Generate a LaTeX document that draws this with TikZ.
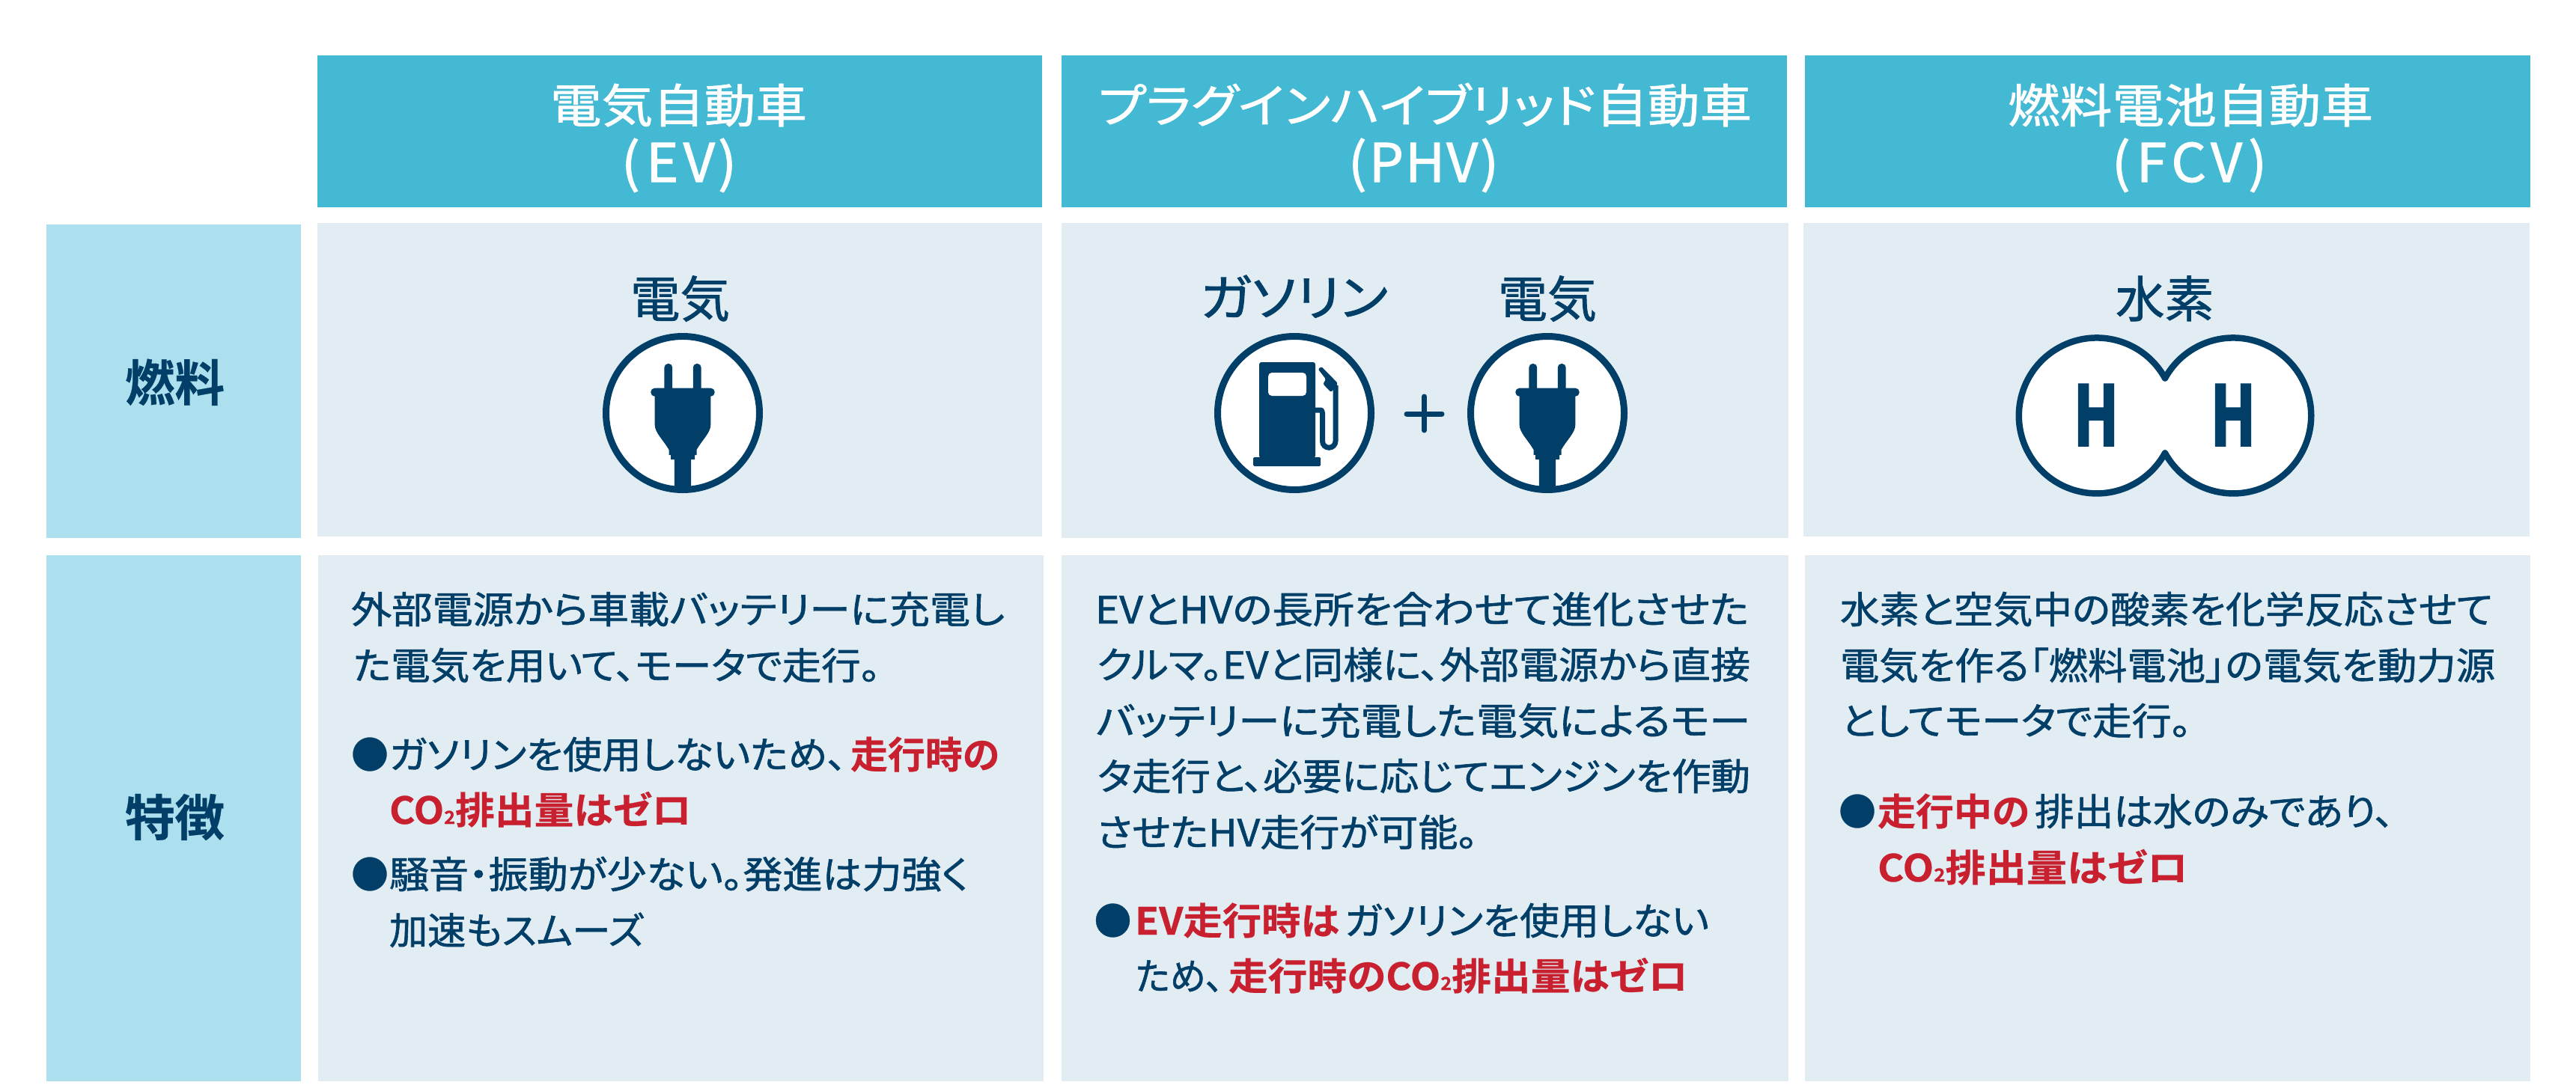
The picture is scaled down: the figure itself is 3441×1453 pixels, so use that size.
\documentclass[tikz,border=0pt]{standalone}
\usepackage{fontspec}
\usepackage{graphicx}
\newfontfamily\jpm[RawFeature={+palt},FakeBold=1.2]{Noto Sans CJK JP}
\newfontfamily\jpfull[FakeBold=0.6]{Noto Sans CJK JP}
\newfontfamily\jplat[FakeBold=1.6]{Noto Sans CJK JP}
\newfontfamily\jpb[RawFeature={+palt},FakeBold=0.4]{Noto Sans CJK JP Bold}
\newfontfamily\jph[FakeBold=3.5]{Noto Sans CJK JP Bold}
\definecolor{navy}{HTML}{023F68}
\definecolor{redx}{HTML}{C9202F}
\definecolor{headc}{HTML}{44B9D3}
\definecolor{leftc}{HTML}{ADE0EE}
\definecolor{cellc}{HTML}{E1ECF3}
\newcommand{\bodyn}{\color{navy}\jpm\fontsize{50}{60}\selectfont}
\newcommand{\bodyr}{\color{redx}\jpb\fontsize{50}{60}\selectfont}
\newcommand{\bul}{\color{navy}\jpfull\fontsize{50}{60}\selectfont}
\newcommand{\headf}{\color{white}\jpm\fontsize{62}{70}\selectfont}
\newcommand{\headl}{\color{white}\jplat\fontsize{71}{80}\selectfont}
\newcommand{\fuelf}{\color{navy}\jpm\fontsize{66}{74}\selectfont}
\newcommand{\sidef}{\color{navy}\jpb\fontsize{66}{74}\selectfont}
\newcommand{\hf}{\color{navy}\jph\fontsize{109}{120}\selectfont}
\newcommand{\linerun}[6]{\node[runtext] (#1) at (#2,#3) {\resizebox{#4pt}{\height}{#5#6}};}
\newcommand{\cotwo}{CO{\fontsize{24}{24}\selectfont 2}}
\tikzset{
  runtext/.style={anchor=base west,inner sep=0pt,outer sep=0pt},
  ring/.style={draw=navy,fill=white,line width=9pt},
  ink/.style={fill=navy,draw=none},
  plugicon/.pic={
    \fill[ink,rounded corners=5pt] (-24.6,-66) rectangle (-13.8,-25);
    \fill[ink,rounded corners=5pt] (13.8,-66) rectangle (24.6,-25);
    \fill[ink,rounded corners=5pt] (-42.6,-33.3) rectangle (42.6,-22.3);
    \fill[ink] (-37.3,-24) -- (37.3,-24) -- (37.3,16)
       .. controls (37.3,26) and (26,36) .. (18.5,49) -- (18.5,56) -- (16,56) -- (16,62)
       -- (11.2,62) -- (11.2,100) -- (-11.2,100) -- (-11.2,62) -- (-16,62) -- (-16,56) -- (-18.5,56) -- (-18.5,49)
       .. controls (-26,36) and (-37.3,26) .. (-37.3,16) -- cycle;
  }
}
\begin{document}
\begin{tikzpicture}[x=1pt,y=-1pt]
\useasboundingbox (0,0) rectangle (3441,1453);
% headers
\fill[headc] (423.5,74) rectangle (1392,277);
\fill[headc] (1418,74) rectangle (2387,277);
\fill[headc] (2411,74) rectangle (3380,277);
% side cells
\fill[leftc] (62,300) rectangle (402,719);
\fill[leftc] (62,742) rectangle (402,1445);
% body cells
\fill[cellc] (423.5,298) rectangle (1392,717);
\fill[cellc] (1418,298) rectangle (2389,719);
\fill[cellc] (2409,298) rectangle (3379,717);
\fill[cellc] (425,742) rectangle (1394,1445);
\fill[cellc] (1418,742) rectangle (2389,1445);
\fill[cellc] (2411,742) rectangle (3380,1445);
% header text
\linerun{h1a}{735}{164}{343}{\headf}{電気自動車}
\linerun{h1b}{830}{243}{154}{\headl}{(\kern8ptE\kern6ptV\kern4pt)}
\linerun{h2a}{1467}{164}{873}{\headf}{プラグインハイブリッド自動車}
\linerun{h2b}{1801}{243}{201}{\headl}{(\kern3ptP\kern2ptH\kern2ptV\kern3pt)}
\linerun{h3a}{2682}{164}{488}{\headf}{燃料電池自動車}
\linerun{h3b}{2821}{243}{207}{\headl}{(\kern8ptF\kern6ptC\kern6ptV\kern8pt)}
% side labels
\linerun{s1}{167}{536}{133}{\sidef}{燃料}
\linerun{s2}{167}{1117}{133}{\sidef}{特徴}
% fuel labels
\linerun{f1}{842}{424}{133}{\fuelf}{電気}
\linerun{f2}{1603}{422}{251}{\fuelf}{ガソリン}
\linerun{f3}{2001}{424}{132}{\fuelf}{電気}
\linerun{f4}{2826}{424}{131}{\fuelf}{水素}
% plug 1
\draw[ring] (912,552) circle (102.5);
\pic at (912,552) {plugicon};
% pump
\draw[ring] (1729,552) circle (102.5);
\fill[ink,rounded corners=3pt] (1682,612) -- (1682,484) -- (1757,484) -- (1757,612) -- cycle;
\fill[ink,rounded corners=1.5pt] (1674,611) rectangle (1764,623);
\fill[white,rounded corners=5pt] (1694,498) rectangle (1745,529);
\draw[navy,line width=7pt] (1757,548) -- (1762,548) .. controls (1765.5,548) .. (1766.5,552) -- (1766.5,589.5)
   arc[start angle=180,end angle=360,radius=8.75,y radius=-8.75] -- (1784.2,515);
\fill[ink,rounded corners=1.5pt] (1760.7,493.3) -- (1765.2,490) -- (1786.6,511.7) -- (1785.3,516.7) -- (1777.7,524) -- (1767.4,513.3) -- (1771,506.7) -- cycle;
% plus
\draw[navy,line width=7pt,line cap=round] (1879,553) -- (1926,553);
\draw[navy,line width=7pt,line cap=round] (1902.5,530) -- (1902.5,575);
% plug 2
\draw[ring] (2067,552) circle (102.5);
\pic at (2067,552) {plugicon};
% H2
\path[draw=navy,fill=white,line width=8.5pt,line join=round]
  (2892,505.5) arc[start angle=28.7,end angle=331.3,radius=104,y radius=-104]
  arc[start angle=208.7,end angle=511.3,radius=104,y radius=-104] -- cycle;
\linerun{ha}{2770}{595}{60}{\hf}{H}
\linerun{hb}{2953}{595}{60}{\hf}{H}
% column 1 text
\linerun{a1}{469}{833}{873}{\bodyn}{外部電源から車載バッテリーに充電し}
\linerun{a2}{472}{908}{704}{\bodyn}{た電気を用いて、モータで走行。}
\linerun{a3b}{469}{1027}{50}{\bul}{●}
\linerun{a3}{520}{1027}{611}{\bodyn}{ガソリンを使用しないため、}
\linerun{a3r}{1136}{1027}{199}{\bodyr}{走行時の}
\linerun{a4}{520}{1101}{404}{\bodyr}{\cotwo 排出量はゼロ}
\linerun{a5b}{469}{1187}{50}{\bul}{●}
\linerun{a5}{520}{1187}{774}{\bodyn}{騒音・振動が少ない。発進は力強く}
\linerun{a6}{520}{1262}{340}{\bodyn}{加速もスムーズ}
% column 2 text
\linerun{b1}{1463}{833}{873}{\bodyn}{EVとHVの長所を合わせて進化させた}
\linerun{b2}{1465}{907}{873}{\bodyn}{クルマ。EVと同様に、外部電源から直接}
\linerun{b3}{1464}{982}{874}{\bodyn}{バッテリーに充電した電気によるモー}
\linerun{b4}{1466}{1056}{872}{\bodyn}{タ走行と、必要に応じてエンジンを作動}
\linerun{b5}{1465}{1131}{509}{\bodyn}{させたHV走行が可能。}
\linerun{b6b}{1461.5}{1249}{50}{\bul}{●}
\linerun{b6r}{1516}{1249}{273}{\bodyr}{EV走行時は}
\linerun{b6}{1796}{1249}{487}{\bodyn}{ガソリンを使用しない}
\linerun{b7}{1517}{1323}{117}{\bodyn}{ため、}
\linerun{b7r}{1641}{1323}{614}{\bodyr}{走行時の\cotwo 排出量はゼロ}
% column 3 text
\linerun{c1}{2458}{833}{872}{\bodyn}{水素と空気中の酸素を化学反応させて}
\linerun{c2}{2458}{908}{875}{\bodyn}{電気を作る「燃料電池」の電気を動力源}
\linerun{c3}{2459}{982}{468}{\bodyn}{としてモータで走行。}
\linerun{c4b}{2456}{1103}{50}{\bul}{●}
\linerun{c4r}{2508}{1103}{203}{\bodyr}{走行中の}
\linerun{c4}{2718}{1103}{480}{\bodyn}{排出は水のみであり、}
\linerun{c5}{2508}{1178}{415}{\bodyr}{\cotwo 排出量はゼロ}
\end{tikzpicture}
\end{document}
